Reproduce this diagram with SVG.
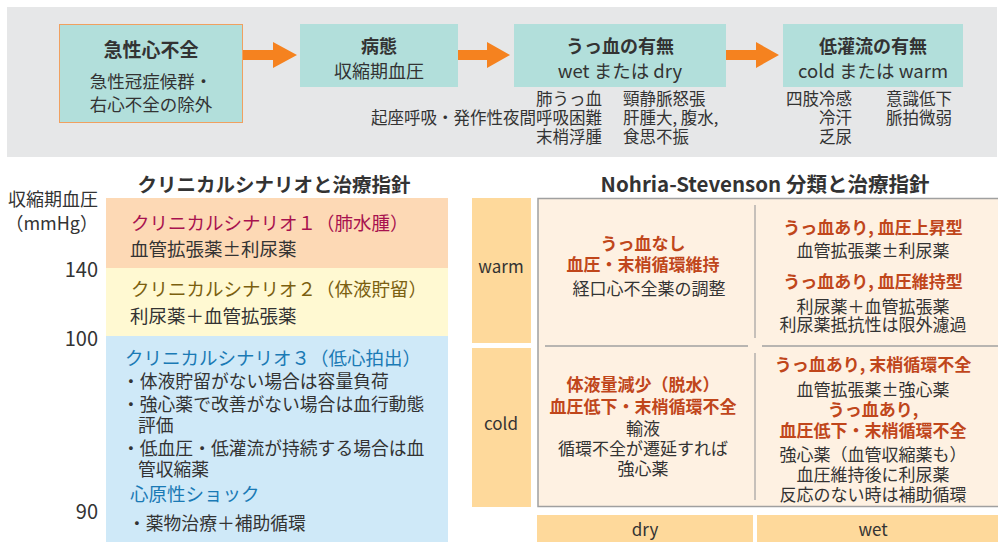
<svg xmlns="http://www.w3.org/2000/svg" width="998" height="542" viewBox="0 0 998 542">
<style>
text{font-family:"Noto Sans CJK JP","Noto Sans",sans-serif;fill:#333;dominant-baseline:central}
.b{font-weight:bold}
.c{text-anchor:middle}
.e{text-anchor:end}
.t17{font-size:17px}
.t16{font-size:16.5px}
.t18{font-size:18px}
.t185{font-size:18.5px}
.teal{fill:#b2dfdb}
.arrow{fill:#f5821f}
.or{fill:#c0461b;font-weight:bold}
.lab{fill:#fed99b}
.grid{stroke:#a0a0a0}
</style>
<rect x="7" y="7" width="990" height="150" fill="#e6e7e8"/>
<g id="connectors">
<path class="arrow" d="M243 50H273V42L297 55L273 68V60H243Z"/>
<path class="arrow" d="M458 50H487V42L510 55L487 68V60H458Z"/>
<path class="arrow" d="M726 50H756V42L779 55L756 68V60H726Z"/>
</g>
<g id="node-ahf">
<rect class="teal" x="59.5" y="24.5" width="183" height="98" stroke="#f0a060" stroke-width="1"/>
<text class="b c" x="151" y="48" style="font-size:19px">急性心不全</text>
<text class="c" x="151" y="80" style="font-size:17.5px">急性冠症候群・</text>
<text class="c" x="151" y="103" style="font-size:17.5px">右心不全の除外</text>
</g>
<g id="node-pathology">
<rect class="teal" x="300" y="24" width="158" height="63"/>
<text class="b c t18" x="379" y="45">病態</text>
<text class="c t18" x="379" y="70">収縮期血圧</text>
</g>
<g id="node-congestion">
<rect class="teal" x="514" y="24" width="212" height="63"/>
<text class="b c t18" x="620" y="45">うっ血の有無</text>
<text class="c t185" x="620" y="70">wet または dry</text>
<text class="e t16" x="602" y="98">肺うっ血</text>
<text class="e t16" x="602" y="117">起座呼吸・発作性夜間呼吸困難</text>
<text class="e t16" x="602" y="136">末梢浮腫</text>
<text class="t16" x="623" y="98">頸静脈怒張</text>
<text class="t16" x="623" y="117">肝腫大, 腹水,</text>
<text class="t16" x="623" y="136">食思不振</text>
</g>
<g id="node-hypoperfusion">
<rect class="teal" x="783" y="24" width="180" height="63"/>
<text class="b c t18" x="873" y="45">低灌流の有無</text>
<text class="c t185" x="873" y="70">cold または warm</text>
<text class="e t16" x="852" y="98">四肢冷感</text>
<text class="e t16" x="852" y="117">冷汗</text>
<text class="e t16" x="852" y="136">乏尿</text>
<text class="t16" x="886" y="98">意識低下</text>
<text class="t16" x="886" y="117">脈拍微弱</text>
</g>
<g id="clinical-scenario">
<text class="b c" x="274" y="183" style="font-size:19.5px">クリニカルシナリオと治療指針</text>
<text class="e t18" x="98" y="198">収縮期血圧</text>
<text class="e t18" x="98" y="222">（mmHg）</text>
<text class="e" x="98" y="268" style="font-size:20px">140</text>
<text class="e" x="98" y="337" style="font-size:20px">100</text>
<text class="e" x="98" y="510" style="font-size:20px">90</text>
<rect x="106" y="198" width="342" height="70" fill="#fdd9b5"/>
<rect x="106" y="268" width="342" height="68" fill="#fff9d2"/>
<rect x="106" y="336" width="342" height="206" fill="#cfe9f8"/>
<text class="t185" x="131" y="222" style="fill:#a8124f">クリニカルシナリオ１（肺水腫）</text>
<text class="t185" x="130" y="248">血管拡張薬±利尿薬</text>
<text class="t185" x="131" y="288" style="fill:#7b6010">クリニカルシナリオ２（体液貯留）</text>
<text class="t185" x="130" y="315">利尿薬＋血管拡張薬</text>
<text class="t185" x="125" y="357" style="fill:#1a7ab5">クリニカルシナリオ３（低心拍出）</text>
<text x="122" y="380" style="font-size:17.8px">・体液貯留がない場合は容量負荷</text>
<text x="122" y="403" style="font-size:17.8px">・強心薬で改善がない場合は血行動態</text>
<text x="138" y="424" style="font-size:17.8px">評価</text>
<text x="122" y="447" style="font-size:17.8px">・低血圧・低灌流が持続する場合は血</text>
<text x="138" y="468" style="font-size:17.8px">管収縮薬</text>
<text class="t185" x="130" y="493" style="fill:#1a7ab5">心原性ショック</text>
<text x="128" y="522" style="font-size:17.8px">・薬物治療＋補助循環</text>
</g>
<g id="nohria-stevenson">
<text class="b c" x="765" y="183" style="font-size:20.5px">Nohria-Stevenson 分類と治療指針</text>
<rect class="lab" x="472" y="198" width="59" height="145"/>
<rect class="lab" x="472" y="348" width="59" height="159"/>
<text class="c t17" x="501" y="265">warm</text>
<text class="c t17" x="501" y="422">cold</text>
<rect x="538" y="198.5" width="470" height="308" fill="#fef1e2" class="grid" stroke-width="1.5"/>
<line class="grid" x1="755" y1="205" x2="755" y2="338" stroke-width="1.2"/>
<line class="grid" x1="755" y1="353" x2="755" y2="500" stroke-width="1.2"/>
<line class="grid" x1="545" y1="346" x2="748" y2="346" stroke-width="1.5"/>
<line class="grid" x1="762" y1="346" x2="998" y2="346" stroke-width="1.5"/>
<rect class="lab" x="537" y="515" width="216" height="27"/>
<rect class="lab" x="757" y="515" width="245" height="27"/>
<text class="c t17" x="645" y="528">dry</text>
<text class="c t17" x="873" y="528">wet</text>
</g>
<g id="cell-warm-dry">
<text class="or c t17" x="643" y="242">うっ血なし</text>
<text class="or c t17" x="643" y="263">血圧・末梢循環維持</text>
<text class="c t17" x="649" y="287">経口心不全薬の調整</text>
</g>
<g id="cell-warm-wet">
<text class="or c t17" x="873" y="226">うっ血あり, 血圧上昇型</text>
<text class="c t17" x="873" y="249">血管拡張薬±利尿薬</text>
<text class="or c t17" x="873" y="280">うっ血あり, 血圧維持型</text>
<text class="c t17" x="873" y="305">利尿薬＋血管拡張薬</text>
<text class="c t17" x="873" y="323">利尿薬抵抗性は限外濾過</text>
</g>
<g id="cell-cold-dry">
<text class="or c t17" x="643" y="383">体液量減少（脱水）</text>
<text class="or c t17" x="643" y="405">血圧低下・末梢循環不全</text>
<text class="c t17" x="643" y="427">輸液</text>
<text class="c t17" x="643" y="447">循環不全が遷延すれば</text>
<text class="c t17" x="643" y="467">強心薬</text>
</g>
<g id="cell-cold-wet">
<text class="or c t17" x="873" y="363">うっ血あり, 末梢循環不全</text>
<text class="c t17" x="873" y="388">血管拡張薬±強心薬</text>
<text class="or c t17" x="873" y="408">うっ血あり,</text>
<text class="or c t17" x="873" y="429">血圧低下・末梢循環不全</text>
<text class="c t17" x="873" y="453">強心薬（血管収縮薬も）</text>
<text class="c t17" x="873" y="473">血圧維持後に利尿薬</text>
<text class="c t17" x="873" y="493">反応のない時は補助循環</text>
</g>
</svg>
